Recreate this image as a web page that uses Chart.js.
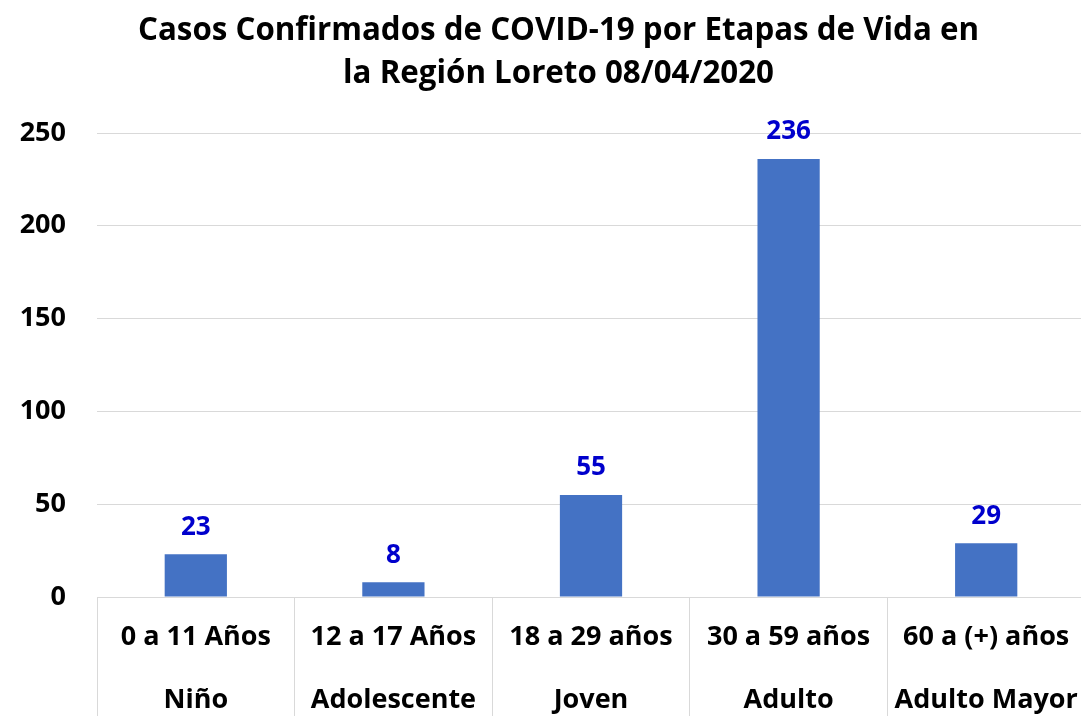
<!DOCTYPE html>
<html>
<head>
<meta charset="utf-8">
<script src="https://cdn.jsdelivr.net/npm/chart.js@4"></script>
<style>
html,body{margin:0;padding:0;background:#fff;overflow:hidden;width:1081px;height:716px;}
canvas{display:block;}
</style>
</head>
<body>
<canvas id="c" width="1117" height="716" style="width:1117px;height:716px"></canvas>
<script>
const categories = [
  ["0 a 11 Años", "Niño"],
  ["12 a 17 Años", "Adolescente"],
  ["18 a 29 años", "Joven"],
  ["30 a 59 años", "Adulto"],
  ["60 a (+) años", "Adulto Mayor"]
];
const casos = [23, 8, 55, 236, 29];
const yTicks = [0, 50, 100, 150, 200, 250];
const titleLines = ["Casos Confirmados de COVID-19 por Etapas de Vida en", "la Región Loreto 08/04/2020"];

const FONT = "'Open Sans', 'Liberation Sans', sans-serif";

const valueLabels = {
  id: 'valueLabels',
  afterDatasetsDraw(chart) {
    const ctx = chart.ctx;
    const meta = chart.getDatasetMeta(0);
    ctx.save();
    ctx.font = "bold 26px " + FONT;
    ctx.fillStyle = "#0000CC";
    ctx.textAlign = "center";
    ctx.textBaseline = "middle";
    meta.data.forEach((bar, i) => {
      ctx.fillText(String(chart.data.datasets[0].data[i]), bar.x, bar.y - 27);
    });
    ctx.restore();
  }
};

new Chart(document.getElementById('c'), {
  type: 'bar',
  data: {
    labels: categories,
    datasets: [{
      data: casos,
      yAxisID: 'y',
      backgroundColor: '#4472C4',
      barPercentage: 0.315,
      categoryPercentage: 1.0
    }]
  },
  options: {
    responsive: false,
    animation: false,
    devicePixelRatio: 1,
    layout: { padding: { left: 0, right: 0, top: 0, bottom: 0 } },
    plugins: {
      legend: { display: false },
      tooltip: { enabled: false },
      title: {
        display: true,
        text: titleLines,
        color: '#000',
        font: { family: FONT, size: 31.3, weight: 'bold', lineHeight: 1.39 },
        padding: { top: 9, bottom: 37 }
      }
    },
    scales: {
      x: {
        grid: {
          display: true,
          drawOnChartArea: false,
          drawTicks: true,
          tickLength: 119,
          color: '#D9D9D9',
          lineWidth: 1
        },
        border: { display: true, color: '#D9D9D9', width: 1 },
        ticks: {
          color: '#000',
          font: { family: FONT, size: 27, weight: 'bold', lineHeight: 2.333 },
          padding: -110.5,
          maxRotation: 0,
          autoSkip: false
        },
        afterFit(scale) { scale.height = 119; }
      },
      y: {
        position: 'left',
        min: 0,
        max: 250,
        afterBuildTicks(scale) { scale.ticks = yTicks.map(v => ({ value: v })); },
        grid: { color: '#D9D9D9', lineWidth: 1, drawTicks: false },
        border: { display: false },
        ticks: {
          color: '#000',
          font: { family: FONT, size: 27, weight: 'bold' },
          padding: 31
        },
        afterFit(scale) { scale.width = 97; }
      },
      yRight: {
        position: 'right',
        display: true,
        min: 0,
        max: 250,
        grid: { display: false, drawOnChartArea: false },
        border: { display: false },
        ticks: { display: false },
        afterFit(scale) { scale.width = 32; }
      }
    }
  },
  plugins: [valueLabels]
});
</script>
</body>
</html>
